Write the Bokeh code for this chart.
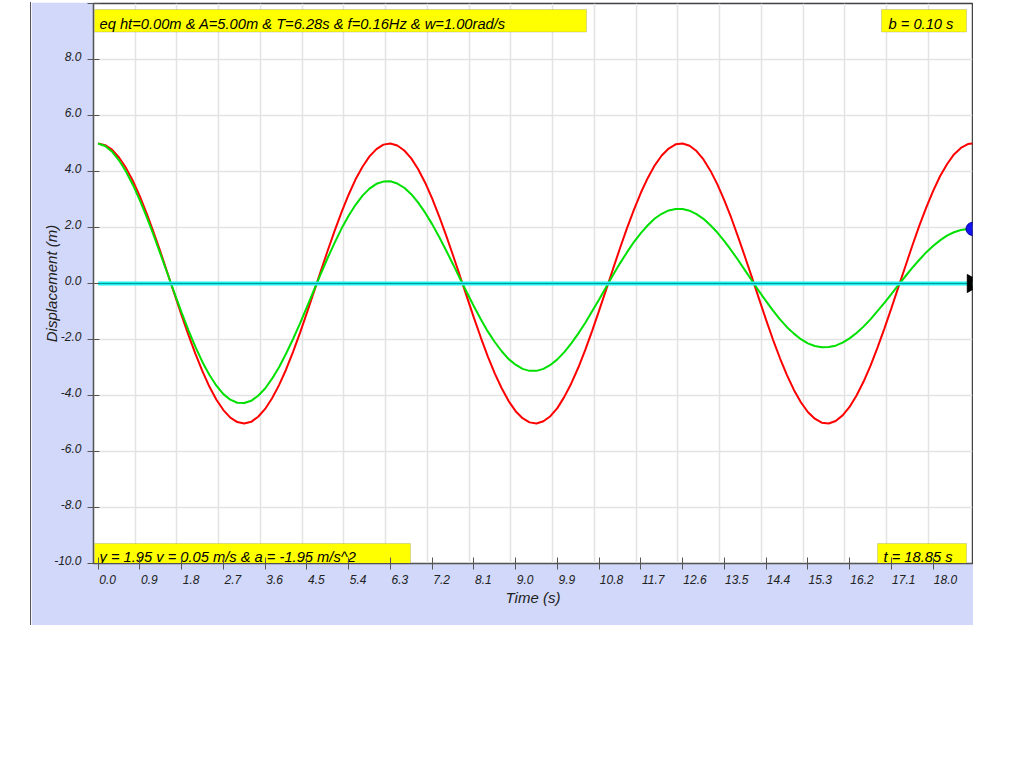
from bokeh.plotting import figure
from bokeh.models import (Range1d, FixedTicker, BoxAnnotation, Label, CustomJSTickFormatter)
from bokeh.embed import file_html
from bokeh.resources import INLINE
import math

# ---------------- data ----------------
time_s = [0.0, 0.15, 0.3, 0.45, 0.6, 0.75, 0.9, 1.05, 1.2, 1.35, 1.5, 1.65, 1.8, 1.95, 2.1, 2.25, 2.4, 2.55, 2.7, 2.85,
          3.0, 3.15, 3.3, 3.45, 3.6, 3.75, 3.9, 4.05, 4.2, 4.35, 4.5, 4.65, 4.8, 4.95, 5.1, 5.25, 5.4, 5.55, 5.7, 5.85,
          6.0, 6.15, 6.3, 6.45, 6.6, 6.75, 6.9, 7.05, 7.2, 7.35, 7.5, 7.65, 7.8, 7.95, 8.1, 8.25, 8.4, 8.55, 8.7, 8.85,
          9.0, 9.15, 9.3, 9.45, 9.6, 9.75, 9.9, 10.05, 10.2, 10.35, 10.5, 10.65, 10.8, 10.95, 11.1, 11.25, 11.4, 11.55, 11.7, 11.85,
          12.0, 12.15, 12.3, 12.45, 12.6, 12.75, 12.9, 13.05, 13.2, 13.35, 13.5, 13.65, 13.8, 13.95, 14.1, 14.25, 14.4, 14.55, 14.7, 14.85,
          15.0, 15.15, 15.3, 15.45, 15.6, 15.75, 15.9, 16.05, 16.2, 16.35, 16.5, 16.65, 16.8, 16.95, 17.1, 17.25, 17.4, 17.55, 17.7, 17.85,
          18.0, 18.15, 18.3, 18.45, 18.6, 18.75, 18.85]

undamped_y = [5.00, 4.94, 4.78, 4.50, 4.13, 3.66, 3.11, 2.49, 1.81, 1.10, 0.35, -0.40, -1.14, -1.85, -2.52, -3.14, -3.69, -4.15, -4.52, -4.79,
              -4.95, -5.00, -4.94, -4.76, -4.48, -4.10, -3.63, -3.08, -2.45, -1.77, -1.05, -0.31, 0.44, 1.18, 1.89, 2.56, 3.17, 3.72, 4.17, 4.54,
              4.80, 4.96, 5.00, 4.93, 4.75, 4.47, 4.08, 3.60, 3.04, 2.41, 1.73, 1.01, 0.27, -0.48, -1.22, -1.93, -2.60, -3.21, -3.74, -4.20,
              -4.56, -4.81, -4.96, -5.00, -4.92, -4.74, -4.45, -4.05, -3.57, -3.01, -2.38, -1.69, -0.97, -0.23, 0.52, 1.26, 1.97, 2.63, 3.24, 3.77,
              4.22, 4.57, 4.82, 4.97, 5.00, 4.92, 4.73, 4.43, 4.03, 3.54, 2.97, 2.34, 1.65, 0.93, 0.19, -0.56, -1.30, -2.01, -2.67, -3.27,
              -3.80, -4.24, -4.59, -4.83, -4.97, -5.00, -4.91, -4.71, -4.41, -4.00, -3.51, -2.94, -2.30, -1.61, -0.89, -0.14, 0.60, 1.34, 2.05, 2.70,
              3.30, 3.83, 4.26, 4.61, 4.84, 4.98, 5.00]

damped_y = [5.00, 4.91, 4.71, 4.40, 4.00, 3.52, 2.97, 2.36, 1.71, 1.02, 0.33, -0.36, -1.04, -1.68, -2.27, -2.81, -3.27, -3.65, -3.95, -4.15,
            -4.26, -4.27, -4.19, -4.01, -3.75, -3.40, -2.99, -2.51, -1.99, -1.43, -0.84, -0.25, 0.34, 0.92, 1.46, 1.97, 2.42, 2.81, 3.14, 3.39,
            3.56, 3.64, 3.65, 3.57, 3.42, 3.19, 2.89, 2.53, 2.12, 1.67, 1.19, 0.69, 0.18, -0.32, -0.81, -1.28, -1.71, -2.09, -2.42, -2.70,
            -2.90, -3.05, -3.12, -3.12, -3.05, -2.91, -2.71, -2.45, -2.14, -1.79, -1.41, -0.99, -0.57, -0.13, 0.30, 0.72, 1.11, 1.48, 1.80, 2.08,
            2.32, 2.49, 2.61, 2.66, 2.66, 2.60, 2.48, 2.31, 2.08, 1.82, 1.51, 1.18, 0.83, 0.46, 0.09, -0.28, -0.63, -0.97, -1.28, -1.56,
            -1.79, -1.99, -2.14, -2.23, -2.28, -2.27, -2.22, -2.11, -1.96, -1.77, -1.54, -1.28, -0.99, -0.69, -0.38, -0.06, 0.25, 0.56, 0.84, 1.11,
            1.34, 1.54, 1.71, 1.83, 1.91, 1.95, 1.95]

eq_time = [0.0, 18.85]
eq_height = [0.0, 0.0]

current_t = [18.85]
current_y = [1.95]
current_eq = [0.0]

x_ticks = [0.0, 0.9, 1.8, 2.7, 3.6, 4.5, 5.4, 6.3, 7.2, 8.1, 9.0,
           9.9, 10.8, 11.7, 12.6, 13.5, 14.4, 15.3, 16.2, 17.1, 18.0]
y_ticks = [-10, -8, -6, -4, -2, 0, 2, 4, 6, 8, 10]

info_top_left = "eq ht=0.00m & A=5.00m & T=6.28s & f=0.16Hz & w=1.00rad/s"
info_top_right = "b = 0.10 s"
info_bottom_left = "y = 1.95 v = 0.05 m/s & a = -1.95 m/s^2"
info_bottom_right = "t = 18.85 s"

# ---------------- styling ----------------
LAVENDER = "#D1D8FA"
FONT = "Liberation Sans"
TEXT_COL = "#222222"
TICK_COL = "#555555"
X0, X1 = -0.1, 18.85
Y0, Y1 = -10.0, 10.0
FW, FH = 879, 560

p = figure(frame_width=FW, frame_height=FH,
           x_range=Range1d(X0, X1), y_range=Range1d(Y0, Y1),
           output_backend="svg", toolbar_location=None,
           min_border_left=62, min_border_right=1, min_border_top=1, min_border_bottom=62,
           background_fill_color="white", border_fill_color=LAVENDER,
           outline_line_color="#444444", outline_line_width=1.5,
           stylesheets=[":host { transform: translate(30px, 2px); border-left: 1px solid #555555; }"])

sx = (X1 - X0) / FW
sy = (Y1 - Y0) / FH

# grids (the applet's vertical grid starts at the left edge of the plot)
p.xgrid.ticker = FixedTicker(ticks=[t - 0.1 for t in x_ticks[1:]])
p.ygrid.ticker = FixedTicker(ticks=y_ticks)
for g in (p.xgrid, p.ygrid):
    g.grid_line_color = "#E3E3E3"
    g.grid_line_width = 1.5

# Tick marks are drawn as "minor" ticks at the true positions; the labels sit on
# hidden "major" ticks nudged so that the text starts at the tick (x) and sits
# slightly above it (y), as in the original applet.
def text_w(s):  # approx width in px of a 12px label
    return 5.9 * len(s) - 0.7

x_label_pos = [t + (1 + text_w("%.1f" % t) / 2) * sx for t in x_ticks]
y_label_pos = [v + 3 * sy for v in y_ticks]

nearest_js = """
let best = tpos[0];
for (const t of tpos) { if (Math.abs(t - tick) < Math.abs(best - tick)) best = t; }
return best.toFixed(1);
"""
p.xaxis.ticker = FixedTicker(ticks=x_label_pos, minor_ticks=x_ticks)
p.yaxis.ticker = FixedTicker(ticks=y_label_pos, minor_ticks=y_ticks)
p.xaxis.formatter = CustomJSTickFormatter(args=dict(tpos=x_ticks), code=nearest_js)
p.yaxis.formatter = CustomJSTickFormatter(args=dict(tpos=y_ticks), code=nearest_js)
p.xaxis.axis_label = "Time (s)"
p.yaxis.axis_label = "Displacement (m)"
for ax in (p.xaxis, p.yaxis):
    ax.axis_line_color = TICK_COL
    ax.major_tick_line_color = None
    ax.major_tick_in = 0
    ax.major_tick_out = 6
    ax.minor_tick_line_color = TICK_COL
    ax.minor_tick_line_width = 1
    ax.minor_tick_in = 6
    ax.minor_tick_out = 6
    ax.major_label_text_font = FONT
    ax.major_label_text_font_style = "italic"
    ax.major_label_text_font_size = "12px"
    ax.major_label_text_color = TEXT_COL
    ax.axis_label_text_font = FONT
    ax.axis_label_text_font_style = "italic"
    ax.axis_label_text_font_size = "15px"
    ax.axis_label_text_color = TEXT_COL
p.yaxis.major_label_standoff = 6
p.xaxis.major_label_standoff = 5
p.xaxis.axis_label_standoff = 2
p.yaxis.axis_label_standoff = -9

# curves
p.line(time_s, undamped_y, line_color="#FF0000", line_width=2)
p.line(time_s, damped_y, line_color="#00E000", line_width=2)
p.line(eq_time, eq_height, line_color="#22EEEE", line_width=4)
p.line(eq_time, eq_height, line_color="#009A9A", line_width=1)
p.scatter(current_t, current_y, size=13, fill_color="#1414EE", line_color="#0000A0", line_width=1)
p.scatter(current_t, current_eq, marker="triangle", size=18, angle=-math.pi / 2,
          fill_color="black", line_color="black")

# info boxes
def box(l, r, t, b):
    return BoxAnnotation(left=X0 + l * sx, right=X0 + r * sx, top=Y1 - t * sy, bottom=Y1 - b * sy,
                         fill_color="#FFFF00", fill_alpha=1.0, line_color="#808080", line_width=1,
                         level="underlay")

def lab(text, l, base):
    return Label(x=X0 + l * sx, y=Y1 - base * sy, text=text, text_font=FONT,
                 text_font_style="italic", text_font_size="14.7px", text_color="black",
                 text_baseline="alphabetic", level="underlay")

p.add_layout(box(1, 493, 6, 28.5))
p.add_layout(box(788, 873, 6, 28.5))
p.add_layout(box(1, 317, 540, 560))
p.add_layout(box(784, 873, 540, 560))
p.add_layout(lab(info_top_left, 6, 20))
p.add_layout(lab(info_top_right, 795, 20))
p.add_layout(lab(info_bottom_left, 6, 553))
p.add_layout(lab(info_bottom_right, 790, 553))

open("out.html", "w").write(file_html(p, INLINE))
